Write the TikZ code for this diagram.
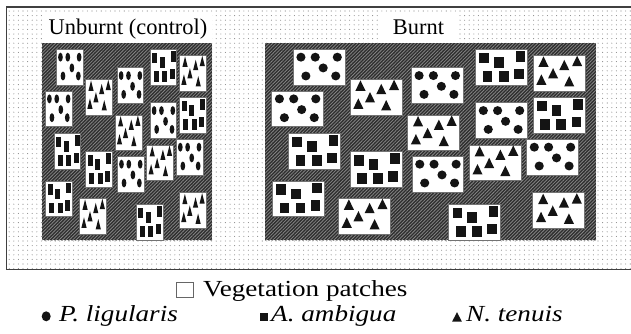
\documentclass[tikz,border=0pt]{standalone}
\usepackage{fontspec}
\setmainfont{Liberation Serif}
\usetikzlibrary{patterns.meta,shapes.geometric}

\tikzset{
  patchframe/.style={fill=white, draw=black!55, line width=0.9pt},
  symfill/.style={fill=black!92},
  titlefont/.style={font=\fontsize{22.4}{26}\selectfont, inner sep=0pt},
  legfont/.style={font=\fontsize{23}{27}\selectfont, inner sep=0pt},
  burntground/.style={pattern={Lines[angle=45,distance=2.4pt,line width=0.8pt]}, pattern color=black!48},
  % P. ligularis patch: six round plants
  pics/circ/.style={code={
    \path[patchframe] (0,0) rectangle (1,1);
    \foreach \px/\py in {.15/.22,.425/.22,.85/.22,.578/.52,.245/.745,.82/.745}
      \fill[symfill] (\px,\py) ellipse [x radius=.088, y radius=.125];
  }},
  % A. ambigua patch: six square plants
  pics/sq/.style={code={
    \path[patchframe] (0,0) rectangle (1,1);
    \foreach \px/\py in {.168/.246,.451/.363,.863/.196,.232/.753,.542/.753,.832/.693}
      \fill[symfill] (\px-.093,\py-.15) rectangle (\px+.093,\py+.15);
  }},
  % N. tenuis patch: six triangular plants
  pics/tri/.style={code={
    \path[patchframe] (0,0) rectangle (1,1);
    \foreach \px/\py in {.2/.195,.6/.292,.847/.177,.384/.522,.159/.698,.695/.744}
      \fill[symfill] (\px,\py-.165) -- (\px+.097,\py+.125) -- (\px-.097,\py+.125) -- cycle;
  }},
}

% legend lettering is set a little wide
\newcommand{\wide}[1]{\scalebox{1.18}[1]{#1}}

% one plot: dark ground with 18 vegetation patches; #1 = left edge, #2 = width
\newcommand{\plotpanel}[2]{%
  \fill[black!82] (#1,43) rectangle ({#1+#2},240);
  \path[burntground] (#1,43) rectangle ({#1+#2},240);
  \foreach \kind/\u/\top in {circ/.085/49.3, tri/.257/79.3, circ/.442/67.7,
      sq/.636/49.3, tri/.810/55.3, circ/.020/91, circ/.636/102.7, sq/.810/97.3,
      tri/.431/115, sq/.071/133.3, sq/.257/151.7, circ/.444/156.3,
      tri/.617/145, circ/.790/139.3, sq/.022/181, tri/.222/198.3,
      sq/.555/204.2, tri/.809/192.7}
    \pic[xscale={0.157*#2}, yscale=35.8] at ({#1+\u*#2},\top) {\kind};
}

\begin{document}
\begin{tikzpicture}[x=1pt, y=-1pt]
  \useasboundingbox (0,0) rectangle (631,333);
  \clip (0,0) rectangle (631,333);

  % stippled surroundings
  \fill[white] (0,0) rectangle (631,333);
  \path[pattern={Dots[distance=4.6pt,radius=0.55pt]}, pattern color=black!45]
    (6.5,7) rectangle (640,269.5);
  \draw[black!75, line width=1.3pt] (640,7) -- (6.5,7) -- (6.5,269.5) -- (640,269.5);

  % the two plots
  \plotpanel{42}{170}
  \plotpanel{265}{331}

  % plot titles on white
  \fill[white] (42,14) rectangle (212,43);
  \fill[white] (380,14) rectangle (457,43);
  \node[titlefont, anchor=base] (unburnt) at (128,34.7) {Unburnt (control)};
  \node[titlefont, anchor=base] (burnt) at (418.5,34.7) {Burnt};

  % legend
  \node[draw=black!60, line width=0.8pt, fill=white, minimum width=17pt,
        minimum height=14.5pt, inner sep=0pt] (vegkey) at (184.5,289.8) {};
  \node[legfont, anchor=base west] (vegtext) at (203,296.7) {\wide{Vegetation patches}};

  \node[fill=black!92, ellipse, minimum width=9pt, minimum height=10pt,
        inner sep=0pt] (pkey) at (46.2,316.3) {};
  \node[legfont, anchor=base west] (ptext) at (59,321.7) {\wide{\itshape P. ligularis}};

  \node[fill=black!92, minimum size=8.6pt, inner sep=0pt, anchor=south west]
        (akey) at (259.5,321.5) {};
  \node[legfont, anchor=base west] (atext) at (271,321.7) {\wide{\itshape A. ambigua}};

  \coordinate (nkey) at (457,321.5);
  \fill[black!92] ([xshift=-4.8pt]nkey) -- ([xshift=4.8pt]nkey) -- ([yshift=9.4pt]nkey) -- cycle;
  \node[legfont, anchor=base west] (ntext) at (466,321.7) {\wide{\itshape N. tenuis}};
\end{tikzpicture}
\end{document}
